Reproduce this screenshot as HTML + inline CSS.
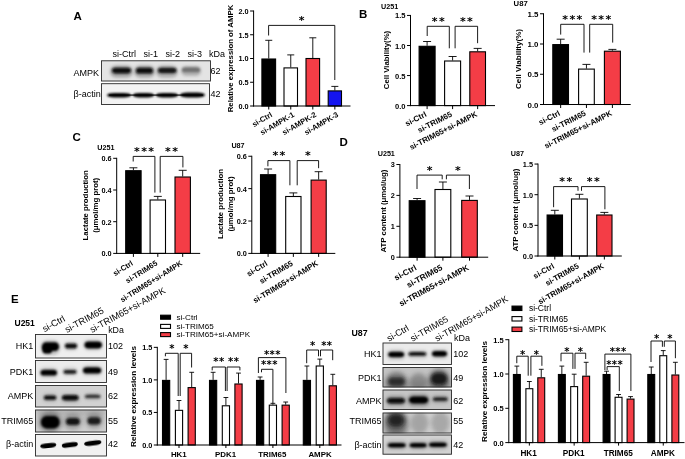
<!DOCTYPE html>
<html><head><meta charset="utf-8"><title>Figure</title>
<style>html,body{margin:0;padding:0;background:#fff}svg{display:block}text{font-family:'Liberation Sans', sans-serif}</style></head><body>
<svg width="685" height="459" viewBox="0 0 685 459">
<defs>
<filter id="b0" x="-30%" y="-80%" width="160%" height="260%"><feGaussianBlur stdDeviation="0.6"/></filter>
<filter id="b1" x="-30%" y="-80%" width="160%" height="260%"><feGaussianBlur stdDeviation="0.9"/></filter>
<filter id="b2" x="-30%" y="-80%" width="160%" height="260%"><feGaussianBlur stdDeviation="1.4"/></filter>
<filter id="b3" x="-30%" y="-80%" width="160%" height="260%"><feGaussianBlur stdDeviation="2.2"/></filter>
<filter id="b4" x="-30%" y="-80%" width="160%" height="260%"><feGaussianBlur stdDeviation="3.0"/></filter>
</defs>
<rect width="685" height="459" fill="#fff"/>
<text x="73.50" y="20.40" font-size="11.5" font-weight="bold" text-anchor="start" fill="#000">A</text>
<text x="112.50" y="57.00" font-size="9" text-anchor="start" fill="#000">si-Ctrl</text>
<text x="143.50" y="57.00" font-size="9" text-anchor="start" fill="#000">si-1</text>
<text x="165.50" y="57.00" font-size="9" text-anchor="start" fill="#000">si-2</text>
<text x="187.50" y="57.00" font-size="9" text-anchor="start" fill="#000">si-3</text>
<text x="209.00" y="57.00" font-size="9" text-anchor="start" fill="#000">kDa</text>
<text x="73.50" y="75.80" font-size="9" text-anchor="start" fill="#000">AMPK</text>
<text x="73.50" y="97.40" font-size="9" text-anchor="start" fill="#000">β-actin</text>
<text x="210.50" y="73.50" font-size="9" text-anchor="start" fill="#000">62</text>
<text x="210.50" y="96.50" font-size="9" text-anchor="start" fill="#000">42</text>
<clipPath id="ba1"><rect x="101" y="60.3" width="110" height="21.200000000000003"/></clipPath>
<g clip-path="url(#ba1)">
<rect x="101" y="60.3" width="110" height="21.200000000000003" fill="#e4e4e4"/>
<rect x="110.0" y="65.5" width="23.0" height="12.0" rx="6.0" ry="6.0" fill="#444" opacity="0.4" filter="url(#b2)"/>
<rect x="112.0" y="67.8" width="19.0" height="5.6" rx="3.8" ry="2.8" fill="#0c0c0c" opacity="1" filter="url(#b1)"/>
<rect x="134.0" y="65.5" width="21.0" height="12.0" rx="6.0" ry="6.0" fill="#444" opacity="0.4" filter="url(#b2)"/>
<rect x="136.0" y="67.8" width="17.0" height="5.8" rx="3.4" ry="2.9" fill="#0c0c0c" opacity="1" filter="url(#b1)"/>
<rect x="156.0" y="65.5" width="22.0" height="12.0" rx="6.0" ry="6.0" fill="#444" opacity="0.35" filter="url(#b2)"/>
<rect x="158.0" y="67.8" width="18.5" height="5.4" rx="3.7" ry="2.7" fill="#141414" opacity="1" filter="url(#b1)"/>
<rect x="181.0" y="66.0" width="20.0" height="10.0" rx="5.0" ry="5.0" fill="#666" opacity="0.4" filter="url(#b2)"/>
<rect x="182.0" y="67.6" width="18.0" height="4.7" rx="3.6" ry="2.4" fill="#555" opacity="0.7" filter="url(#b1)"/>
</g>
<rect x="101.5" y="60.8" width="109" height="20.200000000000003" fill="none" stroke="#2a2a2a" stroke-width="0.9"/>
<clipPath id="ba2"><rect x="101" y="83.2" width="109" height="21.799999999999997"/></clipPath>
<g clip-path="url(#ba2)">
<rect x="101" y="83.2" width="109" height="21.799999999999997" fill="#f3f3f3"/>
<rect x="109.0" y="94.3" width="94.0" height="1.8" rx="0.9" ry="0.9" fill="#222" opacity="0.7" filter="url(#b0)"/>
<rect x="107.0" y="92.9" width="24.0" height="4.6" rx="7.2" ry="2.3" fill="#060606" opacity="1" filter="url(#b1)"/>
<rect x="133.0" y="92.9" width="21.0" height="4.6" rx="6.3" ry="2.3" fill="#060606" opacity="1" filter="url(#b1)"/>
<rect x="156.0" y="92.9" width="22.0" height="4.6" rx="6.6" ry="2.3" fill="#060606" opacity="1" filter="url(#b1)"/>
<rect x="180.0" y="92.4" width="25.0" height="5.1" rx="7.5" ry="2.5" fill="#060606" opacity="1" filter="url(#b1)"/>
</g>
<rect x="101.5" y="83.7" width="108" height="20.799999999999997" fill="none" stroke="#2a2a2a" stroke-width="0.9"/>
<line x1="268.75" y1="58.50" x2="268.75" y2="40.30" stroke="#000" stroke-width="0.9"/>
<line x1="265.25" y1="40.30" x2="272.25" y2="40.30" stroke="#000" stroke-width="0.9"/>
<line x1="290.75" y1="67.40" x2="290.75" y2="54.90" stroke="#000" stroke-width="0.9"/>
<line x1="287.25" y1="54.90" x2="294.25" y2="54.90" stroke="#000" stroke-width="0.9"/>
<line x1="312.80" y1="58.00" x2="312.80" y2="37.80" stroke="#000" stroke-width="0.9"/>
<line x1="309.30" y1="37.80" x2="316.30" y2="37.80" stroke="#000" stroke-width="0.9"/>
<line x1="334.85" y1="90.40" x2="334.85" y2="86.40" stroke="#000" stroke-width="0.9"/>
<line x1="331.35" y1="86.40" x2="338.35" y2="86.40" stroke="#000" stroke-width="0.9"/>
<rect x="261.90" y="59.00" width="13.70" height="47.00" fill="#000" stroke="#000" stroke-width="1.1"/>
<rect x="284.00" y="67.90" width="13.50" height="38.10" fill="#fff" stroke="#000" stroke-width="1.1"/>
<rect x="306.00" y="58.50" width="13.60" height="47.50" fill="#f43d46" stroke="#000" stroke-width="1.1"/>
<rect x="328.20" y="90.90" width="13.30" height="15.10" fill="#1414f0" stroke="#000" stroke-width="1.1"/>
<line x1="253.60" y1="10.50" x2="253.60" y2="106.50" stroke="#000" stroke-width="1.0"/>
<line x1="253.10" y1="106.00" x2="350.50" y2="106.00" stroke="#000" stroke-width="1.0"/>
<line x1="250.10" y1="106.00" x2="253.60" y2="106.00" stroke="#000" stroke-width="1.0"/>
<text x="248.60" y="108.93" font-size="7.3" font-weight="bold" text-anchor="end" fill="#000">0.0</text>
<line x1="250.10" y1="82.25" x2="253.60" y2="82.25" stroke="#000" stroke-width="1.0"/>
<text x="248.60" y="85.18" font-size="7.3" font-weight="bold" text-anchor="end" fill="#000">0.5</text>
<line x1="250.10" y1="58.50" x2="253.60" y2="58.50" stroke="#000" stroke-width="1.0"/>
<text x="248.60" y="61.43" font-size="7.3" font-weight="bold" text-anchor="end" fill="#000">1.0</text>
<line x1="250.10" y1="34.75" x2="253.60" y2="34.75" stroke="#000" stroke-width="1.0"/>
<text x="248.60" y="37.68" font-size="7.3" font-weight="bold" text-anchor="end" fill="#000">1.5</text>
<line x1="250.10" y1="11.00" x2="253.60" y2="11.00" stroke="#000" stroke-width="1.0"/>
<text x="248.60" y="13.93" font-size="7.3" font-weight="bold" text-anchor="end" fill="#000">2.0</text>
<line x1="268.75" y1="106.00" x2="268.75" y2="109.50" stroke="#000" stroke-width="1.0"/>
<text x="272.95" y="116.20" font-size="7.6" font-weight="bold" text-anchor="end" fill="#000" transform="rotate(-30 272.95 116.20)">si-Ctrl</text>
<line x1="290.75" y1="106.00" x2="290.75" y2="109.50" stroke="#000" stroke-width="1.0"/>
<text x="294.95" y="116.20" font-size="7.6" font-weight="bold" text-anchor="end" fill="#000" transform="rotate(-30 294.95 116.20)">si-AMPK-1</text>
<line x1="312.80" y1="106.00" x2="312.80" y2="109.50" stroke="#000" stroke-width="1.0"/>
<text x="317.00" y="116.20" font-size="7.6" font-weight="bold" text-anchor="end" fill="#000" transform="rotate(-30 317.00 116.20)">si-AMPK-2</text>
<line x1="334.85" y1="106.00" x2="334.85" y2="109.50" stroke="#000" stroke-width="1.0"/>
<text x="339.05" y="116.20" font-size="7.6" font-weight="bold" text-anchor="end" fill="#000" transform="rotate(-30 339.05 116.20)">si-AMPK-3</text>
<polyline points="268.60,35.50 268.60,25.40 334.80,25.40 334.80,80.00" fill="none" stroke="#000" stroke-width="0.9"/>
<text x="298.82" y="24.16" font-size="11" font-weight="bold" letter-spacing="1.4" style="font-family:'DejaVu Sans',sans-serif">*</text>
<text x="233.30" y="58.50" font-size="7.8" font-weight="bold" text-anchor="middle" fill="#000" transform="rotate(-90 233.30 58.50)">Relative expression of AMPK</text>
<text x="359.00" y="18.30" font-size="11.5" font-weight="bold" text-anchor="start" fill="#000">B</text>
<text x="381.00" y="8.50" font-size="7.2" font-weight="bold" text-anchor="start" fill="#000">U251</text>
<line x1="427.10" y1="45.80" x2="427.10" y2="41.50" stroke="#000" stroke-width="0.9"/>
<line x1="423.10" y1="41.50" x2="431.10" y2="41.50" stroke="#000" stroke-width="0.9"/>
<line x1="452.60" y1="60.50" x2="452.60" y2="56.50" stroke="#000" stroke-width="0.9"/>
<line x1="448.60" y1="56.50" x2="456.60" y2="56.50" stroke="#000" stroke-width="0.9"/>
<line x1="477.65" y1="51.30" x2="477.65" y2="48.40" stroke="#000" stroke-width="0.9"/>
<line x1="473.65" y1="48.40" x2="481.65" y2="48.40" stroke="#000" stroke-width="0.9"/>
<rect x="419.10" y="46.30" width="16.00" height="59.30" fill="#000" stroke="#000" stroke-width="1.1"/>
<rect x="444.60" y="61.00" width="16.00" height="44.60" fill="#fff" stroke="#000" stroke-width="1.1"/>
<rect x="469.80" y="51.80" width="15.70" height="53.80" fill="#f43d46" stroke="#000" stroke-width="1.1"/>
<line x1="410.50" y1="14.95" x2="410.50" y2="106.10" stroke="#000" stroke-width="1.0"/>
<line x1="410.00" y1="105.60" x2="495.00" y2="105.60" stroke="#000" stroke-width="1.0"/>
<line x1="407.00" y1="105.60" x2="410.50" y2="105.60" stroke="#000" stroke-width="1.0"/>
<text x="405.50" y="108.64" font-size="7.6" font-weight="bold" text-anchor="end" fill="#000">0.0</text>
<line x1="407.00" y1="75.55" x2="410.50" y2="75.55" stroke="#000" stroke-width="1.0"/>
<text x="405.50" y="78.59" font-size="7.6" font-weight="bold" text-anchor="end" fill="#000">0.5</text>
<line x1="407.00" y1="45.50" x2="410.50" y2="45.50" stroke="#000" stroke-width="1.0"/>
<text x="405.50" y="48.54" font-size="7.6" font-weight="bold" text-anchor="end" fill="#000">1.0</text>
<line x1="407.00" y1="15.45" x2="410.50" y2="15.45" stroke="#000" stroke-width="1.0"/>
<text x="405.50" y="18.49" font-size="7.6" font-weight="bold" text-anchor="end" fill="#000">1.5</text>
<line x1="427.10" y1="105.60" x2="427.10" y2="109.10" stroke="#000" stroke-width="1.0"/>
<text x="427.20" y="116.00" font-size="7.95" font-weight="bold" text-anchor="end" fill="#000" transform="rotate(-27 427.20 116.00)">si-Ctrl</text>
<line x1="452.60" y1="105.60" x2="452.60" y2="109.10" stroke="#000" stroke-width="1.0"/>
<text x="452.70" y="116.00" font-size="7.95" font-weight="bold" text-anchor="end" fill="#000" transform="rotate(-27 452.70 116.00)">si-TRIM65</text>
<line x1="477.65" y1="105.60" x2="477.65" y2="109.10" stroke="#000" stroke-width="1.0"/>
<text x="477.75" y="116.00" font-size="7.95" font-weight="bold" text-anchor="end" fill="#000" transform="rotate(-27 477.75 116.00)">si-TRIM65+si-AMPK</text>
<polyline points="427.20,36.00 427.20,26.30 449.30,26.30 449.30,48.30" fill="none" stroke="#000" stroke-width="0.9"/>
<polyline points="455.10,48.30 455.10,26.30 477.60,26.30 477.60,43.20" fill="none" stroke="#000" stroke-width="0.9"/>
<text x="431.80" y="25.06" font-size="11" font-weight="bold" letter-spacing="1.4" style="font-family:'DejaVu Sans',sans-serif">**</text>
<text x="459.90" y="25.06" font-size="11" font-weight="bold" letter-spacing="1.4" style="font-family:'DejaVu Sans',sans-serif">**</text>
<text x="389.30" y="60.00" font-size="7.8" font-weight="bold" text-anchor="middle" fill="#000" transform="rotate(-90 389.30 60.00)">Cell Viability(%)</text>
<text x="513.60" y="6.30" font-size="7.7" font-weight="bold" text-anchor="start" fill="#000">U87</text>
<line x1="560.65" y1="44.10" x2="560.65" y2="39.20" stroke="#000" stroke-width="0.9"/>
<line x1="556.65" y1="39.20" x2="564.65" y2="39.20" stroke="#000" stroke-width="0.9"/>
<line x1="586.45" y1="68.60" x2="586.45" y2="64.40" stroke="#000" stroke-width="0.9"/>
<line x1="582.45" y1="64.40" x2="590.45" y2="64.40" stroke="#000" stroke-width="0.9"/>
<line x1="612.40" y1="50.70" x2="612.40" y2="49.40" stroke="#000" stroke-width="0.9"/>
<line x1="608.40" y1="49.40" x2="616.40" y2="49.40" stroke="#000" stroke-width="0.9"/>
<rect x="552.80" y="44.60" width="15.70" height="59.90" fill="#000" stroke="#000" stroke-width="1.1"/>
<rect x="578.60" y="69.10" width="15.70" height="35.40" fill="#fff" stroke="#000" stroke-width="1.1"/>
<rect x="604.40" y="51.20" width="16.00" height="53.30" fill="#f43d46" stroke="#000" stroke-width="1.1"/>
<line x1="543.50" y1="13.25" x2="543.50" y2="105.00" stroke="#000" stroke-width="1.0"/>
<line x1="543.00" y1="104.50" x2="630.70" y2="104.50" stroke="#000" stroke-width="1.0"/>
<line x1="540.00" y1="104.50" x2="543.50" y2="104.50" stroke="#000" stroke-width="1.0"/>
<text x="538.50" y="107.64" font-size="7.9" font-weight="bold" text-anchor="end" fill="#000">0.0</text>
<line x1="540.00" y1="74.25" x2="543.50" y2="74.25" stroke="#000" stroke-width="1.0"/>
<text x="538.50" y="77.39" font-size="7.9" font-weight="bold" text-anchor="end" fill="#000">0.5</text>
<line x1="540.00" y1="44.00" x2="543.50" y2="44.00" stroke="#000" stroke-width="1.0"/>
<text x="538.50" y="47.14" font-size="7.9" font-weight="bold" text-anchor="end" fill="#000">1.0</text>
<line x1="540.00" y1="13.75" x2="543.50" y2="13.75" stroke="#000" stroke-width="1.0"/>
<text x="538.50" y="16.89" font-size="7.9" font-weight="bold" text-anchor="end" fill="#000">1.5</text>
<line x1="560.65" y1="104.50" x2="560.65" y2="108.00" stroke="#000" stroke-width="1.0"/>
<text x="560.75" y="114.90" font-size="7.95" font-weight="bold" text-anchor="end" fill="#000" transform="rotate(-27 560.75 114.90)">si-Ctrl</text>
<line x1="586.45" y1="104.50" x2="586.45" y2="108.00" stroke="#000" stroke-width="1.0"/>
<text x="586.55" y="114.90" font-size="7.95" font-weight="bold" text-anchor="end" fill="#000" transform="rotate(-27 586.55 114.90)">si-TRIM65</text>
<line x1="612.40" y1="104.50" x2="612.40" y2="108.00" stroke="#000" stroke-width="1.0"/>
<text x="612.50" y="114.90" font-size="7.95" font-weight="bold" text-anchor="end" fill="#000" transform="rotate(-27 612.50 114.90)">si-TRIM65+si-AMPK</text>
<polyline points="560.70,34.60 560.70,24.30 584.00,24.30 584.00,52.60" fill="none" stroke="#000" stroke-width="0.9"/>
<polyline points="589.70,52.60 589.70,24.30 612.70,24.30 612.70,42.60" fill="none" stroke="#000" stroke-width="0.9"/>
<text x="562.32" y="23.06" font-size="11" font-weight="bold" letter-spacing="1.4" style="font-family:'DejaVu Sans',sans-serif">***</text>
<text x="591.17" y="23.06" font-size="11" font-weight="bold" letter-spacing="1.4" style="font-family:'DejaVu Sans',sans-serif">***</text>
<text x="521.00" y="59.00" font-size="8.0" font-weight="bold" text-anchor="middle" fill="#000" transform="rotate(-90 521.00 59.00)">Cell Viability(%)</text>
<text x="72.60" y="141.00" font-size="11.5" font-weight="bold" text-anchor="start" fill="#000">C</text>
<text x="97.30" y="149.80" font-size="7.2" font-weight="bold" text-anchor="start" fill="#000">U251</text>
<line x1="133.40" y1="170.20" x2="133.40" y2="167.80" stroke="#000" stroke-width="0.9"/>
<line x1="129.40" y1="167.80" x2="137.40" y2="167.80" stroke="#000" stroke-width="0.9"/>
<line x1="157.80" y1="199.50" x2="157.80" y2="196.40" stroke="#000" stroke-width="0.9"/>
<line x1="153.80" y1="196.40" x2="161.80" y2="196.40" stroke="#000" stroke-width="0.9"/>
<line x1="182.70" y1="176.50" x2="182.70" y2="170.30" stroke="#000" stroke-width="0.9"/>
<line x1="178.70" y1="170.30" x2="186.70" y2="170.30" stroke="#000" stroke-width="0.9"/>
<rect x="125.70" y="170.70" width="15.40" height="82.70" fill="#000" stroke="#000" stroke-width="1.1"/>
<rect x="150.10" y="200.00" width="15.40" height="53.40" fill="#fff" stroke="#000" stroke-width="1.1"/>
<rect x="175.00" y="177.00" width="15.40" height="76.40" fill="#f43d46" stroke="#000" stroke-width="1.1"/>
<line x1="116.70" y1="157.80" x2="116.70" y2="253.90" stroke="#000" stroke-width="1.0"/>
<line x1="116.20" y1="253.40" x2="200.20" y2="253.40" stroke="#000" stroke-width="1.0"/>
<line x1="113.20" y1="253.40" x2="116.70" y2="253.40" stroke="#000" stroke-width="1.0"/>
<text x="111.70" y="256.33" font-size="7.3" font-weight="bold" text-anchor="end" fill="#000">0.0</text>
<line x1="113.20" y1="221.70" x2="116.70" y2="221.70" stroke="#000" stroke-width="1.0"/>
<text x="111.70" y="224.63" font-size="7.3" font-weight="bold" text-anchor="end" fill="#000">0.2</text>
<line x1="113.20" y1="190.00" x2="116.70" y2="190.00" stroke="#000" stroke-width="1.0"/>
<text x="111.70" y="192.93" font-size="7.3" font-weight="bold" text-anchor="end" fill="#000">0.4</text>
<line x1="113.20" y1="158.30" x2="116.70" y2="158.30" stroke="#000" stroke-width="1.0"/>
<text x="111.70" y="161.23" font-size="7.3" font-weight="bold" text-anchor="end" fill="#000">0.6</text>
<line x1="133.40" y1="253.40" x2="133.40" y2="256.90" stroke="#000" stroke-width="1.0"/>
<text x="133.60" y="264.60" font-size="7.6" font-weight="bold" text-anchor="end" fill="#000" transform="rotate(-32 133.60 264.60)">si-Ctrl</text>
<line x1="157.80" y1="253.40" x2="157.80" y2="256.90" stroke="#000" stroke-width="1.0"/>
<text x="158.00" y="264.60" font-size="7.6" font-weight="bold" text-anchor="end" fill="#000" transform="rotate(-32 158.00 264.60)">si-TRIM65</text>
<line x1="182.70" y1="253.40" x2="182.70" y2="256.90" stroke="#000" stroke-width="1.0"/>
<text x="182.90" y="264.60" font-size="7.6" font-weight="bold" text-anchor="end" fill="#000" transform="rotate(-32 182.90 264.60)">si-TRIM65+si-AMPK</text>
<polyline points="133.20,161.50 133.20,156.40 154.90,156.40 154.90,192.60" fill="none" stroke="#000" stroke-width="0.9"/>
<polyline points="160.20,192.60 160.20,156.40 182.90,156.40 182.90,167.40" fill="none" stroke="#000" stroke-width="0.9"/>
<text x="134.02" y="155.16" font-size="11" font-weight="bold" letter-spacing="1.4" style="font-family:'DejaVu Sans',sans-serif">***</text>
<text x="165.10" y="155.16" font-size="11" font-weight="bold" letter-spacing="1.4" style="font-family:'DejaVu Sans',sans-serif">**</text>
<text x="88.20" y="205.30" font-size="7.8" font-weight="bold" text-anchor="middle" fill="#000" transform="rotate(-90 88.20 205.30)">Lactate production</text>
<text x="97.60" y="205.30" font-size="7.8" font-weight="bold" text-anchor="middle" fill="#000" transform="rotate(-90 97.60 205.30)">(μmol/mg prot)</text>
<text x="231.40" y="148.20" font-size="7.2" font-weight="bold" text-anchor="start" fill="#000">U87</text>
<line x1="268.10" y1="174.20" x2="268.10" y2="169.00" stroke="#000" stroke-width="0.9"/>
<line x1="264.10" y1="169.00" x2="272.10" y2="169.00" stroke="#000" stroke-width="0.9"/>
<line x1="293.35" y1="196.00" x2="293.35" y2="192.90" stroke="#000" stroke-width="0.9"/>
<line x1="289.35" y1="192.90" x2="297.35" y2="192.90" stroke="#000" stroke-width="0.9"/>
<line x1="318.65" y1="179.60" x2="318.65" y2="171.70" stroke="#000" stroke-width="0.9"/>
<line x1="314.65" y1="171.70" x2="322.65" y2="171.70" stroke="#000" stroke-width="0.9"/>
<rect x="260.50" y="174.70" width="15.20" height="78.70" fill="#000" stroke="#000" stroke-width="1.1"/>
<rect x="285.70" y="196.50" width="15.30" height="56.90" fill="#fff" stroke="#000" stroke-width="1.1"/>
<rect x="311.10" y="180.10" width="15.10" height="73.30" fill="#f43d46" stroke="#000" stroke-width="1.1"/>
<line x1="251.80" y1="155.76" x2="251.80" y2="253.90" stroke="#000" stroke-width="1.0"/>
<line x1="251.30" y1="253.40" x2="335.30" y2="253.40" stroke="#000" stroke-width="1.0"/>
<line x1="248.30" y1="253.40" x2="251.80" y2="253.40" stroke="#000" stroke-width="1.0"/>
<text x="246.80" y="256.33" font-size="7.3" font-weight="bold" text-anchor="end" fill="#000">0.0</text>
<line x1="248.30" y1="221.02" x2="251.80" y2="221.02" stroke="#000" stroke-width="1.0"/>
<text x="246.80" y="223.95" font-size="7.3" font-weight="bold" text-anchor="end" fill="#000">0.2</text>
<line x1="248.30" y1="188.64" x2="251.80" y2="188.64" stroke="#000" stroke-width="1.0"/>
<text x="246.80" y="191.57" font-size="7.3" font-weight="bold" text-anchor="end" fill="#000">0.4</text>
<line x1="248.30" y1="156.26" x2="251.80" y2="156.26" stroke="#000" stroke-width="1.0"/>
<text x="246.80" y="159.19" font-size="7.3" font-weight="bold" text-anchor="end" fill="#000">0.6</text>
<line x1="268.10" y1="253.40" x2="268.10" y2="256.90" stroke="#000" stroke-width="1.0"/>
<text x="268.20" y="264.90" font-size="7.9" font-weight="bold" text-anchor="end" fill="#000" transform="rotate(-31 268.20 264.90)">si-Ctrl</text>
<line x1="293.35" y1="253.40" x2="293.35" y2="256.90" stroke="#000" stroke-width="1.0"/>
<text x="293.45" y="264.90" font-size="7.9" font-weight="bold" text-anchor="end" fill="#000" transform="rotate(-31 293.45 264.90)">si-TRIM65</text>
<line x1="318.65" y1="253.40" x2="318.65" y2="256.90" stroke="#000" stroke-width="1.0"/>
<text x="318.75" y="264.90" font-size="7.9" font-weight="bold" text-anchor="end" fill="#000" transform="rotate(-31 318.75 264.90)">si-TRIM65+si-AMPK</text>
<polyline points="267.90,166.30 267.90,160.60 289.90,160.60 289.90,185.30" fill="none" stroke="#000" stroke-width="0.9"/>
<polyline points="297.20,185.30 297.20,160.60 318.60,160.60 318.60,168.20" fill="none" stroke="#000" stroke-width="0.9"/>
<text x="272.45" y="159.36" font-size="11" font-weight="bold" letter-spacing="1.4" style="font-family:'DejaVu Sans',sans-serif">**</text>
<text x="305.02" y="159.36" font-size="11" font-weight="bold" letter-spacing="1.4" style="font-family:'DejaVu Sans',sans-serif">*</text>
<text x="223.40" y="204.00" font-size="7.8" font-weight="bold" text-anchor="middle" fill="#000" transform="rotate(-90 223.40 204.00)">Lactate production</text>
<text x="232.80" y="204.00" font-size="7.8" font-weight="bold" text-anchor="middle" fill="#000" transform="rotate(-90 232.80 204.00)">(μmol/mg prot)</text>
<text x="339.50" y="146.30" font-size="11.5" font-weight="bold" text-anchor="start" fill="#000">D</text>
<text x="377.70" y="156.20" font-size="7.2" font-weight="bold" text-anchor="start" fill="#000">U251</text>
<line x1="417.10" y1="200.20" x2="417.10" y2="198.50" stroke="#000" stroke-width="0.9"/>
<line x1="413.10" y1="198.50" x2="421.10" y2="198.50" stroke="#000" stroke-width="0.9"/>
<line x1="442.90" y1="189.00" x2="442.90" y2="182.00" stroke="#000" stroke-width="0.9"/>
<line x1="438.90" y1="182.00" x2="446.90" y2="182.00" stroke="#000" stroke-width="0.9"/>
<line x1="469.50" y1="199.90" x2="469.50" y2="196.00" stroke="#000" stroke-width="0.9"/>
<line x1="465.50" y1="196.00" x2="473.50" y2="196.00" stroke="#000" stroke-width="0.9"/>
<rect x="409.20" y="200.70" width="15.80" height="56.50" fill="#000" stroke="#000" stroke-width="1.1"/>
<rect x="435.00" y="189.50" width="15.80" height="67.70" fill="#fff" stroke="#000" stroke-width="1.1"/>
<rect x="461.70" y="200.40" width="15.60" height="56.80" fill="#f43d46" stroke="#000" stroke-width="1.1"/>
<line x1="399.90" y1="164.00" x2="399.90" y2="257.70" stroke="#000" stroke-width="1.0"/>
<line x1="399.40" y1="257.20" x2="488.20" y2="257.20" stroke="#000" stroke-width="1.0"/>
<line x1="396.40" y1="257.20" x2="399.90" y2="257.20" stroke="#000" stroke-width="1.0"/>
<text x="394.90" y="260.13" font-size="7.3" font-weight="bold" text-anchor="end" fill="#000">0</text>
<line x1="396.40" y1="226.30" x2="399.90" y2="226.30" stroke="#000" stroke-width="1.0"/>
<text x="394.90" y="229.23" font-size="7.3" font-weight="bold" text-anchor="end" fill="#000">1</text>
<line x1="396.40" y1="195.40" x2="399.90" y2="195.40" stroke="#000" stroke-width="1.0"/>
<text x="394.90" y="198.33" font-size="7.3" font-weight="bold" text-anchor="end" fill="#000">2</text>
<line x1="396.40" y1="164.50" x2="399.90" y2="164.50" stroke="#000" stroke-width="1.0"/>
<text x="394.90" y="167.43" font-size="7.3" font-weight="bold" text-anchor="end" fill="#000">3</text>
<line x1="417.10" y1="257.20" x2="417.10" y2="260.70" stroke="#000" stroke-width="1.0"/>
<text x="417.20" y="269.30" font-size="8.3" font-weight="bold" text-anchor="end" fill="#000" transform="rotate(-28.5 417.20 269.30)">si-Ctrl</text>
<line x1="442.90" y1="257.20" x2="442.90" y2="260.70" stroke="#000" stroke-width="1.0"/>
<text x="443.00" y="269.30" font-size="8.3" font-weight="bold" text-anchor="end" fill="#000" transform="rotate(-28.5 443.00 269.30)">si-TRIM65</text>
<line x1="469.50" y1="257.20" x2="469.50" y2="260.70" stroke="#000" stroke-width="1.0"/>
<text x="469.60" y="269.30" font-size="8.3" font-weight="bold" text-anchor="end" fill="#000" transform="rotate(-28.5 469.60 269.30)">si-TRIM65+si-AMPK</text>
<polyline points="417.00,189.00 417.00,175.10 442.20,175.10 442.20,179.30" fill="none" stroke="#000" stroke-width="0.9"/>
<polyline points="446.40,179.30 446.40,175.10 469.40,175.10 469.40,189.00" fill="none" stroke="#000" stroke-width="0.9"/>
<text x="426.72" y="173.86" font-size="11" font-weight="bold" letter-spacing="1.4" style="font-family:'DejaVu Sans',sans-serif">*</text>
<text x="455.02" y="173.86" font-size="11" font-weight="bold" letter-spacing="1.4" style="font-family:'DejaVu Sans',sans-serif">*</text>
<text x="386.00" y="211.00" font-size="7.8" font-weight="bold" text-anchor="middle" fill="#000" transform="rotate(-90 386.00 211.00)">ATP content (μmol/ug)</text>
<text x="510.70" y="155.50" font-size="7.2" font-weight="bold" text-anchor="start" fill="#000">U87</text>
<line x1="554.80" y1="214.50" x2="554.80" y2="210.30" stroke="#000" stroke-width="0.9"/>
<line x1="550.80" y1="210.30" x2="558.80" y2="210.30" stroke="#000" stroke-width="0.9"/>
<line x1="579.40" y1="198.50" x2="579.40" y2="194.30" stroke="#000" stroke-width="0.9"/>
<line x1="575.40" y1="194.30" x2="583.40" y2="194.30" stroke="#000" stroke-width="0.9"/>
<line x1="604.35" y1="214.50" x2="604.35" y2="212.40" stroke="#000" stroke-width="0.9"/>
<line x1="600.35" y1="212.40" x2="608.35" y2="212.40" stroke="#000" stroke-width="0.9"/>
<rect x="547.10" y="215.00" width="15.40" height="41.00" fill="#000" stroke="#000" stroke-width="1.1"/>
<rect x="571.50" y="199.00" width="15.80" height="57.00" fill="#fff" stroke="#000" stroke-width="1.1"/>
<rect x="596.70" y="215.00" width="15.30" height="41.00" fill="#f43d46" stroke="#000" stroke-width="1.1"/>
<line x1="538.00" y1="163.55" x2="538.00" y2="256.50" stroke="#000" stroke-width="1.0"/>
<line x1="537.50" y1="256.00" x2="621.80" y2="256.00" stroke="#000" stroke-width="1.0"/>
<line x1="534.50" y1="256.00" x2="538.00" y2="256.00" stroke="#000" stroke-width="1.0"/>
<text x="533.00" y="258.93" font-size="7.3" font-weight="bold" text-anchor="end" fill="#000">0.0</text>
<line x1="534.50" y1="225.35" x2="538.00" y2="225.35" stroke="#000" stroke-width="1.0"/>
<text x="533.00" y="228.28" font-size="7.3" font-weight="bold" text-anchor="end" fill="#000">0.5</text>
<line x1="534.50" y1="194.70" x2="538.00" y2="194.70" stroke="#000" stroke-width="1.0"/>
<text x="533.00" y="197.63" font-size="7.3" font-weight="bold" text-anchor="end" fill="#000">1.0</text>
<line x1="534.50" y1="164.05" x2="538.00" y2="164.05" stroke="#000" stroke-width="1.0"/>
<text x="533.00" y="166.98" font-size="7.3" font-weight="bold" text-anchor="end" fill="#000">1.5</text>
<line x1="554.80" y1="256.00" x2="554.80" y2="259.50" stroke="#000" stroke-width="1.0"/>
<text x="554.90" y="267.60" font-size="7.9" font-weight="bold" text-anchor="end" fill="#000" transform="rotate(-29.8 554.90 267.60)">si-Ctrl</text>
<line x1="579.40" y1="256.00" x2="579.40" y2="259.50" stroke="#000" stroke-width="1.0"/>
<text x="579.50" y="267.60" font-size="7.9" font-weight="bold" text-anchor="end" fill="#000" transform="rotate(-29.8 579.50 267.60)">si-TRIM65</text>
<line x1="604.35" y1="256.00" x2="604.35" y2="259.50" stroke="#000" stroke-width="1.0"/>
<text x="604.45" y="267.60" font-size="7.9" font-weight="bold" text-anchor="end" fill="#000" transform="rotate(-29.8 604.45 267.60)">si-TRIM65+si-AMPK</text>
<polyline points="553.60,207.20 553.60,186.60 578.00,186.60 578.00,190.80" fill="none" stroke="#000" stroke-width="0.9"/>
<polyline points="581.50,190.80 581.50,186.60 604.90,186.60 604.90,209.30" fill="none" stroke="#000" stroke-width="0.9"/>
<text x="559.35" y="185.36" font-size="11" font-weight="bold" letter-spacing="1.4" style="font-family:'DejaVu Sans',sans-serif">**</text>
<text x="586.75" y="185.36" font-size="11" font-weight="bold" letter-spacing="1.4" style="font-family:'DejaVu Sans',sans-serif">**</text>
<text x="518.00" y="210.00" font-size="7.8" font-weight="bold" text-anchor="middle" fill="#000" transform="rotate(-90 518.00 210.00)">ATP content (μmol/ug)</text>
<text x="11.00" y="303.40" font-size="11.5" font-weight="bold" text-anchor="start" fill="#000">E</text>
<text x="14.50" y="325.50" font-size="8.5" font-weight="bold" text-anchor="start" fill="#000">U251</text>
<text x="44.50" y="332.30" font-size="9.3" text-anchor="start" fill="#000" transform="rotate(-28.7 44.50 332.30)">si-Ctrl</text>
<text x="67.00" y="333.00" font-size="9.3" text-anchor="start" fill="#000" transform="rotate(-28.7 67.00 333.00)">si-TRIM65</text>
<text x="92.00" y="333.00" font-size="9.3" text-anchor="start" fill="#000" transform="rotate(-28.7 92.00 333.00)">si-TRIM65+si-AMPK</text>
<text x="108.20" y="332.80" font-size="8.8" text-anchor="start" fill="#000">kDa</text>
<text x="33.30" y="349.30" font-size="9" text-anchor="end" fill="#000">HK1</text>
<text x="108.00" y="349.30" font-size="9" text-anchor="start" fill="#000">102</text>
<text x="33.30" y="374.90" font-size="9" text-anchor="end" fill="#000">PDK1</text>
<text x="108.00" y="374.90" font-size="9" text-anchor="start" fill="#000">49</text>
<text x="33.30" y="399.10" font-size="9" text-anchor="end" fill="#000">AMPK</text>
<text x="108.00" y="399.10" font-size="9" text-anchor="start" fill="#000">62</text>
<text x="33.30" y="424.30" font-size="9" text-anchor="end" fill="#000">TRIM65</text>
<text x="108.00" y="424.30" font-size="9" text-anchor="start" fill="#000">55</text>
<text x="33.30" y="446.80" font-size="9" text-anchor="end" fill="#000">β-actin</text>
<text x="108.00" y="446.80" font-size="9" text-anchor="start" fill="#000">42</text>
<clipPath id="be1"><rect x="35" y="334" width="72" height="24.5"/></clipPath>
<g clip-path="url(#be1)">
<rect x="35" y="334" width="72" height="24.5" fill="#efefef"/>
<rect x="40.5" y="340.0" width="20.0" height="15.0" rx="7.5" ry="7.5" fill="#666" opacity="0.35" filter="url(#b2)"/>
<rect x="42.0" y="342.3" width="17.0" height="8.7" rx="4.2" ry="4.3" fill="#030303" opacity="1" filter="url(#b1)"/>
<rect x="42.5" y="346.0" width="9.5" height="7.6" rx="2.9" ry="3.8" fill="#030303" opacity="1" filter="url(#b1)"/>
<rect x="63.5" y="341.5" width="15.0" height="9.0" rx="4.5" ry="4.5" fill="#777" opacity="0.3" filter="url(#b2)"/>
<rect x="65.0" y="343.6" width="12.0" height="4.8" rx="3.0" ry="2.4" fill="#111" opacity="1" filter="url(#b1)"/>
<rect x="83.0" y="339.5" width="20.0" height="11.0" rx="5.5" ry="5.5" fill="#777" opacity="0.3" filter="url(#b2)"/>
<rect x="84.5" y="341.6" width="17.5" height="6.8" rx="4.4" ry="3.4" fill="#060606" opacity="1" filter="url(#b1)"/>
</g>
<rect x="35.5" y="334.5" width="71" height="23.5" fill="none" stroke="#2a2a2a" stroke-width="0.9"/>
<clipPath id="be2"><rect x="35" y="360" width="72" height="23"/></clipPath>
<g clip-path="url(#be2)">
<rect x="35" y="360" width="72" height="23" fill="#ececec"/>
<rect x="39.0" y="367.5" width="19.5" height="10.5" rx="5.2" ry="5.2" fill="#777" opacity="0.3" filter="url(#b2)"/>
<rect x="40.5" y="369.8" width="16.5" height="5.8" rx="4.1" ry="2.9" fill="#060606" opacity="1" filter="url(#b1)"/>
<rect x="62.0" y="367.5" width="16.0" height="8.5" rx="4.2" ry="4.2" fill="#777" opacity="0.3" filter="url(#b2)"/>
<rect x="63.5" y="369.9" width="13.0" height="3.9" rx="3.2" ry="2.0" fill="#151515" opacity="1" filter="url(#b1)"/>
<rect x="81.5" y="365.0" width="21.0" height="11.0" rx="5.5" ry="5.5" fill="#777" opacity="0.3" filter="url(#b2)"/>
<rect x="83.0" y="367.3" width="18.3" height="6.3" rx="4.6" ry="3.2" fill="#060606" opacity="1" filter="url(#b1)"/>
</g>
<rect x="35.5" y="360.5" width="71" height="22" fill="none" stroke="#2a2a2a" stroke-width="0.9"/>
<clipPath id="be3"><rect x="35" y="385" width="72" height="22.5"/></clipPath>
<g clip-path="url(#be3)">
<rect x="35" y="385" width="72" height="22.5" fill="#d2d2d2"/>
<rect x="42.5" y="393.5" width="15.0" height="8.5" rx="4.2" ry="4.2" fill="#666" opacity="0.3" filter="url(#b2)"/>
<rect x="44.0" y="395.5" width="12.2" height="4.3" rx="3.1" ry="2.2" fill="#101010" opacity="1" filter="url(#b1)"/>
<rect x="60.5" y="393.5" width="19.5" height="9.5" rx="4.8" ry="4.8" fill="#666" opacity="0.3" filter="url(#b2)"/>
<rect x="62.0" y="395.1" width="16.6" height="5.5" rx="4.1" ry="2.8" fill="#080808" opacity="1" filter="url(#b1)"/>
<rect x="84.0" y="393.0" width="17.0" height="7.0" rx="3.5" ry="3.5" fill="#666" opacity="0.3" filter="url(#b2)"/>
<rect x="85.0" y="394.8" width="15.4" height="3.2" rx="3.9" ry="1.6" fill="#2a2a2a" opacity="0.95" filter="url(#b1)"/>
</g>
<rect x="35.5" y="385.5" width="71" height="21.5" fill="none" stroke="#2a2a2a" stroke-width="0.9"/>
<clipPath id="be4"><rect x="35" y="409.5" width="72" height="23.0"/></clipPath>
<g clip-path="url(#be4)">
<rect x="35" y="409.5" width="72" height="23.0" fill="#cdcdcd"/>
<rect x="36.0" y="408.0" width="70.0" height="8.0" rx="4.0" ry="4.0" fill="#888" opacity="0.35" filter="url(#b3)"/>
<rect x="38.5" y="412.0" width="23.5" height="20.0" rx="10.0" ry="10.0" fill="#444" opacity="0.55" filter="url(#b3)"/>
<rect x="41.0" y="416.0" width="18.6" height="12.4" rx="5.6" ry="6.2" fill="#000" opacity="1" filter="url(#b1)"/>
<rect x="63.5" y="414.0" width="18.5" height="15.0" rx="7.5" ry="7.5" fill="#555" opacity="0.45" filter="url(#b3)"/>
<rect x="66.0" y="418.0" width="13.8" height="7.0" rx="4.1" ry="3.5" fill="#0c0c0c" opacity="0.95" filter="url(#b1)"/>
<rect x="85.5" y="413.0" width="17.5" height="15.0" rx="7.5" ry="7.5" fill="#555" opacity="0.45" filter="url(#b3)"/>
<rect x="87.5" y="417.2" width="13.1" height="7.2" rx="3.9" ry="3.6" fill="#141414" opacity="0.95" filter="url(#b1)"/>
</g>
<rect x="35.5" y="410.0" width="71" height="22.0" fill="none" stroke="#2a2a2a" stroke-width="0.9"/>
<clipPath id="be5"><rect x="35" y="434" width="72" height="22.5"/></clipPath>
<g clip-path="url(#be5)">
<rect x="35" y="434" width="72" height="22.5" fill="#f1f1f1"/>
<rect x="40.3" y="443.3" width="15.9" height="4.6" rx="4.8" ry="2.3" fill="#050505" opacity="1" filter="url(#b0)" transform="rotate(-6 48.2 445.6)"/>
<rect x="61.8" y="442.6" width="16.0" height="4.6" rx="4.8" ry="2.3" fill="#050505" opacity="1" filter="url(#b0)" transform="rotate(-7 69.8 444.9)"/>
<rect x="84.2" y="440.8" width="17.2" height="4.6" rx="5.2" ry="2.3" fill="#050505" opacity="1" filter="url(#b0)" transform="rotate(-7 92.8 443.1)"/>
</g>
<rect x="35.5" y="434.5" width="71" height="21.5" fill="none" stroke="#2a2a2a" stroke-width="0.9"/>
<rect x="160.6" y="315.2" width="9.9" height="4.0" fill="#000" stroke="#000" stroke-width="1.1"/>
<text x="176.50" y="319.90" font-size="8.1" text-anchor="start" fill="#000">si-Ctrl</text>
<rect x="160.6" y="324.4" width="9.9" height="4.0" fill="#fff" stroke="#000" stroke-width="1.1"/>
<text x="176.50" y="329.10" font-size="8.1" text-anchor="start" fill="#000">si-TRIM65</text>
<rect x="160.6" y="332.6" width="9.9" height="4.0" fill="#f43d46" stroke="#000" stroke-width="1.1"/>
<text x="176.50" y="337.30" font-size="8.1" text-anchor="start" fill="#000">si-TRIM65+si-AMPK</text>
<line x1="166.10" y1="379.90" x2="166.10" y2="359.40" stroke="#000" stroke-width="0.9"/>
<line x1="163.70" y1="359.40" x2="168.50" y2="359.40" stroke="#000" stroke-width="0.9"/>
<line x1="179.00" y1="409.85" x2="179.00" y2="400.50" stroke="#000" stroke-width="0.9"/>
<line x1="176.60" y1="400.50" x2="181.40" y2="400.50" stroke="#000" stroke-width="0.9"/>
<line x1="191.70" y1="387.10" x2="191.70" y2="372.30" stroke="#000" stroke-width="0.9"/>
<line x1="189.30" y1="372.30" x2="194.10" y2="372.30" stroke="#000" stroke-width="0.9"/>
<line x1="213.10" y1="379.90" x2="213.10" y2="372.30" stroke="#000" stroke-width="0.9"/>
<line x1="210.70" y1="372.30" x2="215.50" y2="372.30" stroke="#000" stroke-width="0.9"/>
<line x1="225.90" y1="405.29" x2="225.90" y2="397.50" stroke="#000" stroke-width="0.9"/>
<line x1="223.50" y1="397.50" x2="228.30" y2="397.50" stroke="#000" stroke-width="0.9"/>
<line x1="238.50" y1="383.50" x2="238.50" y2="373.10" stroke="#000" stroke-width="0.9"/>
<line x1="236.10" y1="373.10" x2="240.90" y2="373.10" stroke="#000" stroke-width="0.9"/>
<line x1="260.10" y1="379.90" x2="260.10" y2="377.00" stroke="#000" stroke-width="0.9"/>
<line x1="257.70" y1="377.00" x2="262.50" y2="377.00" stroke="#000" stroke-width="0.9"/>
<line x1="272.90" y1="404.64" x2="272.90" y2="403.34" stroke="#000" stroke-width="0.9"/>
<line x1="270.50" y1="403.34" x2="275.30" y2="403.34" stroke="#000" stroke-width="0.9"/>
<line x1="285.70" y1="404.64" x2="285.70" y2="402.03" stroke="#000" stroke-width="0.9"/>
<line x1="283.30" y1="402.03" x2="288.10" y2="402.03" stroke="#000" stroke-width="0.9"/>
<line x1="306.90" y1="379.90" x2="306.90" y2="366.00" stroke="#000" stroke-width="0.9"/>
<line x1="304.50" y1="366.00" x2="309.30" y2="366.00" stroke="#000" stroke-width="0.9"/>
<line x1="319.80" y1="365.50" x2="319.80" y2="359.10" stroke="#000" stroke-width="0.9"/>
<line x1="317.40" y1="359.10" x2="322.20" y2="359.10" stroke="#000" stroke-width="0.9"/>
<line x1="332.80" y1="385.30" x2="332.80" y2="374.30" stroke="#000" stroke-width="0.9"/>
<line x1="330.40" y1="374.30" x2="335.20" y2="374.30" stroke="#000" stroke-width="0.9"/>
<rect x="162.50" y="380.40" width="7.20" height="64.60" fill="#000" stroke="#000" stroke-width="1.1"/>
<rect x="175.40" y="410.35" width="7.20" height="34.65" fill="#fff" stroke="#000" stroke-width="1.1"/>
<rect x="188.10" y="387.60" width="7.20" height="57.40" fill="#f43d46" stroke="#000" stroke-width="1.1"/>
<rect x="209.50" y="380.40" width="7.20" height="64.60" fill="#000" stroke="#000" stroke-width="1.1"/>
<rect x="222.30" y="405.79" width="7.20" height="39.21" fill="#fff" stroke="#000" stroke-width="1.1"/>
<rect x="234.90" y="384.00" width="7.20" height="61.00" fill="#f43d46" stroke="#000" stroke-width="1.1"/>
<rect x="256.50" y="380.40" width="7.20" height="64.60" fill="#000" stroke="#000" stroke-width="1.1"/>
<rect x="269.30" y="405.14" width="7.20" height="39.86" fill="#fff" stroke="#000" stroke-width="1.1"/>
<rect x="282.10" y="405.14" width="7.20" height="39.86" fill="#f43d46" stroke="#000" stroke-width="1.1"/>
<rect x="303.30" y="380.40" width="7.20" height="64.60" fill="#000" stroke="#000" stroke-width="1.1"/>
<rect x="316.20" y="366.00" width="7.20" height="79.00" fill="#fff" stroke="#000" stroke-width="1.1"/>
<rect x="329.20" y="385.80" width="7.20" height="59.20" fill="#f43d46" stroke="#000" stroke-width="1.1"/>
<line x1="157.30" y1="346.85" x2="157.30" y2="445.50" stroke="#000" stroke-width="1.0"/>
<line x1="156.80" y1="445.00" x2="341.50" y2="445.00" stroke="#000" stroke-width="1.0"/>
<line x1="153.80" y1="445.00" x2="157.30" y2="445.00" stroke="#000" stroke-width="1.0"/>
<text x="152.30" y="447.93" font-size="7.3" font-weight="bold" text-anchor="end" fill="#000">0.0</text>
<line x1="153.80" y1="412.45" x2="157.30" y2="412.45" stroke="#000" stroke-width="1.0"/>
<text x="152.30" y="415.38" font-size="7.3" font-weight="bold" text-anchor="end" fill="#000">0.5</text>
<line x1="153.80" y1="379.90" x2="157.30" y2="379.90" stroke="#000" stroke-width="1.0"/>
<text x="152.30" y="382.83" font-size="7.3" font-weight="bold" text-anchor="end" fill="#000">1.0</text>
<line x1="153.80" y1="347.35" x2="157.30" y2="347.35" stroke="#000" stroke-width="1.0"/>
<text x="152.30" y="350.28" font-size="7.3" font-weight="bold" text-anchor="end" fill="#000">1.5</text>
<polyline points="165.40,356.30 165.40,353.30 178.20,353.30 178.20,396.00" fill="none" stroke="#000" stroke-width="0.9"/>
<polyline points="180.20,396.00 180.20,353.30 191.60,353.30 191.60,367.50" fill="none" stroke="#000" stroke-width="0.9"/>
<polyline points="212.20,370.40 212.20,367.00 225.40,367.00 225.40,391.00" fill="none" stroke="#000" stroke-width="0.9"/>
<polyline points="227.10,391.00 227.10,367.00 239.90,367.00 239.90,370.40" fill="none" stroke="#000" stroke-width="0.9"/>
<polyline points="258.40,373.00 258.40,357.60 285.90,357.60 285.90,393.00" fill="none" stroke="#000" stroke-width="0.9"/>
<polyline points="261.50,372.30 261.50,369.30 272.90,369.30 272.90,403.00" fill="none" stroke="#000" stroke-width="0.9"/>
<polyline points="306.70,363.20 306.70,350.00 318.50,350.00 318.50,356.30" fill="none" stroke="#000" stroke-width="0.9"/>
<polyline points="320.50,356.30 320.50,350.00 332.70,350.00 332.70,360.20" fill="none" stroke="#000" stroke-width="0.9"/>
<text x="169.19" y="351.65" font-size="10" font-weight="bold" letter-spacing="0.4" style="font-family:'DejaVu Sans',sans-serif">*</text>
<text x="183.28" y="351.65" font-size="10" font-weight="bold" letter-spacing="0.4" style="font-family:'DejaVu Sans',sans-serif">*</text>
<text x="213.37" y="365.35" font-size="10" font-weight="bold" letter-spacing="0.4" style="font-family:'DejaVu Sans',sans-serif">**</text>
<text x="228.07" y="365.35" font-size="10" font-weight="bold" letter-spacing="0.4" style="font-family:'DejaVu Sans',sans-serif">**</text>
<text x="263.90" y="358.15" font-size="10" font-weight="bold" letter-spacing="0.4" style="font-family:'DejaVu Sans',sans-serif">***</text>
<text x="260.95" y="368.05" font-size="10" font-weight="bold" letter-spacing="0.4" style="font-family:'DejaVu Sans',sans-serif">***</text>
<text x="309.99" y="349.35" font-size="10" font-weight="bold" letter-spacing="0.4" style="font-family:'DejaVu Sans',sans-serif">*</text>
<text x="321.17" y="349.35" font-size="10" font-weight="bold" letter-spacing="0.4" style="font-family:'DejaVu Sans',sans-serif">**</text>
<text x="178.80" y="456.80" font-size="7.9" font-weight="bold" text-anchor="middle" fill="#000">HK1</text>
<text x="225.60" y="456.80" font-size="7.9" font-weight="bold" text-anchor="middle" fill="#000">PDK1</text>
<text x="272.30" y="456.80" font-size="7.9" font-weight="bold" text-anchor="middle" fill="#000">TRIM65</text>
<text x="320.00" y="456.80" font-size="7.9" font-weight="bold" text-anchor="middle" fill="#000">AMPK</text>
<line x1="179.00" y1="445.00" x2="179.00" y2="448.00" stroke="#000" stroke-width="1"/>
<line x1="225.90" y1="445.00" x2="225.90" y2="448.00" stroke="#000" stroke-width="1"/>
<line x1="272.90" y1="445.00" x2="272.90" y2="448.00" stroke="#000" stroke-width="1"/>
<line x1="319.80" y1="445.00" x2="319.80" y2="448.00" stroke="#000" stroke-width="1"/>
<text x="136.30" y="396.50" font-size="8.1" font-weight="bold" text-anchor="middle" fill="#000" transform="rotate(-90 136.30 396.50)">Relative expression levels</text>
<text x="351.40" y="336.10" font-size="8.8" font-weight="bold" text-anchor="start" fill="#000">U87</text>
<text x="389.00" y="341.80" font-size="9.1" text-anchor="start" fill="#000" transform="rotate(-29.7 389.00 341.80)">si-Ctrl</text>
<text x="412.50" y="341.80" font-size="9.1" text-anchor="start" fill="#000" transform="rotate(-29.7 412.50 341.80)">si-TRIM65</text>
<text x="437.00" y="341.80" font-size="9.1" text-anchor="start" fill="#000" transform="rotate(-29.7 437.00 341.80)">si-TRIM65+si-AMPK</text>
<text x="454.00" y="341.20" font-size="9" text-anchor="start" fill="#000">kDa</text>
<text x="381.60" y="357.00" font-size="9" text-anchor="end" fill="#000">HK1</text>
<text x="453.30" y="357.00" font-size="9" text-anchor="start" fill="#000">102</text>
<text x="381.60" y="381.20" font-size="9" text-anchor="end" fill="#000">PDK1</text>
<text x="453.30" y="381.20" font-size="9" text-anchor="start" fill="#000">49</text>
<text x="381.60" y="403.50" font-size="9" text-anchor="end" fill="#000">AMPK</text>
<text x="453.30" y="403.50" font-size="9" text-anchor="start" fill="#000">62</text>
<text x="381.60" y="424.00" font-size="9" text-anchor="end" fill="#000">TRIM65</text>
<text x="453.30" y="424.00" font-size="9" text-anchor="start" fill="#000">55</text>
<text x="381.60" y="447.60" font-size="9" text-anchor="end" fill="#000">β-actin</text>
<text x="453.30" y="447.60" font-size="9" text-anchor="start" fill="#000">42</text>
<clipPath id="bf1"><rect x="382.5" y="342.5" width="69.5" height="22.5"/></clipPath>
<g clip-path="url(#bf1)">
<rect x="382.5" y="342.5" width="69.5" height="22.5" fill="#ebebeb"/>
<rect x="386.5" y="349.5" width="19.5" height="10.5" rx="5.2" ry="5.2" fill="#777" opacity="0.3" filter="url(#b2)"/>
<rect x="388.2" y="351.7" width="15.9" height="5.5" rx="4.0" ry="2.8" fill="#060606" opacity="1" filter="url(#b1)"/>
<rect x="407.0" y="350.0" width="21.0" height="8.5" rx="4.2" ry="4.2" fill="#777" opacity="0.3" filter="url(#b2)"/>
<rect x="408.5" y="352.0" width="17.7" height="3.8" rx="4.4" ry="1.9" fill="#0c0c0c" opacity="1" filter="url(#b1)"/>
<rect x="430.5" y="349.0" width="18.0" height="10.0" rx="5.0" ry="5.0" fill="#777" opacity="0.3" filter="url(#b2)"/>
<rect x="432.0" y="351.0" width="15.0" height="5.5" rx="3.8" ry="2.8" fill="#060606" opacity="1" filter="url(#b1)"/>
</g>
<rect x="383.0" y="343.0" width="68.5" height="21.5" fill="none" stroke="#2a2a2a" stroke-width="0.9"/>
<clipPath id="bf2"><rect x="382.5" y="367" width="69.5" height="20.5"/></clipPath>
<g clip-path="url(#bf2)">
<rect x="382.5" y="367" width="69.5" height="20.5" fill="#c3c3c3"/>
<rect x="383.0" y="380.0" width="69.0" height="12.0" rx="6.0" ry="6.0" fill="#777" opacity="0.5" filter="url(#b4)"/>
<rect x="386.0" y="372.0" width="21.0" height="18.0" rx="9.0" ry="9.0" fill="#444" opacity="0.55" filter="url(#b3)"/>
<rect x="388.5" y="377.5" width="16.0" height="8.0" rx="4.0" ry="4.0" fill="#1c1c1c" opacity="0.8" filter="url(#b2)"/>
<rect x="410.0" y="373.0" width="17.0" height="17.0" rx="8.5" ry="8.5" fill="#606060" opacity="0.5" filter="url(#b3)"/>
<rect x="428.5" y="369.0" width="21.0" height="21.0" rx="10.5" ry="10.5" fill="#333" opacity="0.6" filter="url(#b3)"/>
<rect x="431.0" y="373.0" width="16.0" height="11.5" rx="5.8" ry="5.8" fill="#101010" opacity="0.85" filter="url(#b2)"/>
</g>
<rect x="383.0" y="367.5" width="68.5" height="19.5" fill="none" stroke="#2a2a2a" stroke-width="0.9"/>
<clipPath id="bf3"><rect x="382.5" y="389.5" width="69.5" height="20.5"/></clipPath>
<g clip-path="url(#bf3)">
<rect x="382.5" y="389.5" width="69.5" height="20.5" fill="#c6c6c6"/>
<rect x="385.5" y="395.5" width="21.0" height="10.5" rx="5.2" ry="5.2" fill="#555" opacity="0.4" filter="url(#b2)"/>
<rect x="387.1" y="398.0" width="17.7" height="5.4" rx="4.4" ry="2.7" fill="#080808" opacity="1" filter="url(#b1)"/>
<rect x="407.0" y="394.0" width="23.0" height="12.5" rx="6.2" ry="6.2" fill="#555" opacity="0.45" filter="url(#b2)"/>
<rect x="409.0" y="396.4" width="19.2" height="7.1" rx="4.8" ry="3.6" fill="#020202" opacity="1" filter="url(#b1)"/>
<rect x="431.5" y="395.0" width="17.5" height="8.5" rx="4.2" ry="4.2" fill="#666" opacity="0.35" filter="url(#b2)"/>
<rect x="433.0" y="397.3" width="14.5" height="3.7" rx="3.6" ry="1.8" fill="#1c1c1c" opacity="0.95" filter="url(#b1)"/>
</g>
<rect x="383.0" y="390.0" width="68.5" height="19.5" fill="none" stroke="#2a2a2a" stroke-width="0.9"/>
<clipPath id="bf4"><rect x="382.5" y="412.5" width="69.5" height="21.0"/></clipPath>
<g clip-path="url(#bf4)">
<rect x="382.5" y="412.5" width="69.5" height="21.0" fill="#d0d0d0"/>
<rect x="384.0" y="410.0" width="24.0" height="28.0" rx="14.0" ry="14.0" fill="#444" opacity="0.7" filter="url(#b4)"/>
<rect x="387.5" y="413.5" width="17.0" height="13.5" rx="6.8" ry="6.8" fill="#161616" opacity="0.85" filter="url(#b3)"/>
<rect x="410.5" y="412.0" width="18.0" height="22.0" rx="11.0" ry="11.0" fill="#888" opacity="0.6" filter="url(#b3)"/>
<rect x="431.0" y="412.0" width="18.5" height="22.0" rx="11.0" ry="11.0" fill="#888" opacity="0.55" filter="url(#b3)"/>
</g>
<rect x="383.0" y="413.0" width="68.5" height="20.0" fill="none" stroke="#2a2a2a" stroke-width="0.9"/>
<clipPath id="bf5"><rect x="382.5" y="434.5" width="69.5" height="20.19999999999999"/></clipPath>
<g clip-path="url(#bf5)">
<rect x="382.5" y="434.5" width="69.5" height="20.19999999999999" fill="#d2d2d2"/>
<rect x="386.0" y="440.5" width="21.5" height="9.5" rx="4.8" ry="4.8" fill="#666" opacity="0.3" filter="url(#b2)"/>
<rect x="387.9" y="443.0" width="17.7" height="4.4" rx="4.4" ry="2.2" fill="#050505" opacity="1" filter="url(#b1)"/>
<rect x="408.0" y="440.5" width="20.5" height="9.5" rx="4.8" ry="4.8" fill="#666" opacity="0.3" filter="url(#b2)"/>
<rect x="409.7" y="443.0" width="16.9" height="4.4" rx="4.2" ry="2.2" fill="#050505" opacity="1" filter="url(#b1)"/>
<rect x="427.5" y="440.0" width="21.0" height="9.5" rx="4.8" ry="4.8" fill="#666" opacity="0.3" filter="url(#b2)"/>
<rect x="429.0" y="442.5" width="17.8" height="4.5" rx="4.5" ry="2.2" fill="#050505" opacity="1" filter="url(#b1)"/>
</g>
<rect x="383.0" y="435.0" width="68.5" height="19.19999999999999" fill="none" stroke="#2a2a2a" stroke-width="0.9"/>
<rect x="512" y="306.1" width="9.9" height="4.4" fill="#000" stroke="#000" stroke-width="1.1"/>
<text x="528.90" y="311.10" font-size="8.5" text-anchor="start" fill="#000">si-Ctrl</text>
<rect x="512" y="316.6" width="9.9" height="4.4" fill="#fff" stroke="#000" stroke-width="1.1"/>
<text x="528.90" y="321.60" font-size="8.5" text-anchor="start" fill="#000">si-TRIM65</text>
<rect x="512" y="327.1" width="9.9" height="4.4" fill="#f43d46" stroke="#000" stroke-width="1.1"/>
<text x="528.90" y="332.10" font-size="8.5" text-anchor="start" fill="#000">si-TRIM65+si-AMPK</text>
<line x1="516.85" y1="374.00" x2="516.85" y2="366.10" stroke="#000" stroke-width="0.9"/>
<line x1="514.45" y1="366.10" x2="519.25" y2="366.10" stroke="#000" stroke-width="0.9"/>
<line x1="529.35" y1="388.20" x2="529.35" y2="381.50" stroke="#000" stroke-width="0.9"/>
<line x1="526.95" y1="381.50" x2="531.75" y2="381.50" stroke="#000" stroke-width="0.9"/>
<line x1="541.25" y1="377.30" x2="541.25" y2="369.30" stroke="#000" stroke-width="0.9"/>
<line x1="538.85" y1="369.30" x2="543.65" y2="369.30" stroke="#000" stroke-width="0.9"/>
<line x1="561.85" y1="374.00" x2="561.85" y2="366.10" stroke="#000" stroke-width="0.9"/>
<line x1="559.45" y1="366.10" x2="564.25" y2="366.10" stroke="#000" stroke-width="0.9"/>
<line x1="574.15" y1="386.10" x2="574.15" y2="374.20" stroke="#000" stroke-width="0.9"/>
<line x1="571.75" y1="374.20" x2="576.55" y2="374.20" stroke="#000" stroke-width="0.9"/>
<line x1="586.15" y1="375.70" x2="586.15" y2="362.30" stroke="#000" stroke-width="0.9"/>
<line x1="583.75" y1="362.30" x2="588.55" y2="362.30" stroke="#000" stroke-width="0.9"/>
<line x1="606.55" y1="374.00" x2="606.55" y2="371.20" stroke="#000" stroke-width="0.9"/>
<line x1="604.15" y1="371.20" x2="608.95" y2="371.20" stroke="#000" stroke-width="0.9"/>
<line x1="618.55" y1="396.80" x2="618.55" y2="394.50" stroke="#000" stroke-width="0.9"/>
<line x1="616.15" y1="394.50" x2="620.95" y2="394.50" stroke="#000" stroke-width="0.9"/>
<line x1="630.55" y1="398.60" x2="630.55" y2="396.60" stroke="#000" stroke-width="0.9"/>
<line x1="628.15" y1="396.60" x2="632.95" y2="396.60" stroke="#000" stroke-width="0.9"/>
<line x1="651.25" y1="374.00" x2="651.25" y2="367.00" stroke="#000" stroke-width="0.9"/>
<line x1="648.85" y1="367.00" x2="653.65" y2="367.00" stroke="#000" stroke-width="0.9"/>
<line x1="663.25" y1="355.20" x2="663.25" y2="350.60" stroke="#000" stroke-width="0.9"/>
<line x1="660.85" y1="350.60" x2="665.65" y2="350.60" stroke="#000" stroke-width="0.9"/>
<line x1="675.35" y1="374.50" x2="675.35" y2="362.30" stroke="#000" stroke-width="0.9"/>
<line x1="672.95" y1="362.30" x2="677.75" y2="362.30" stroke="#000" stroke-width="0.9"/>
<rect x="513.40" y="374.50" width="6.90" height="68.10" fill="#000" stroke="#000" stroke-width="1.1"/>
<rect x="525.90" y="388.70" width="6.90" height="53.90" fill="#fff" stroke="#000" stroke-width="1.1"/>
<rect x="537.80" y="377.80" width="6.90" height="64.80" fill="#f43d46" stroke="#000" stroke-width="1.1"/>
<rect x="558.40" y="374.50" width="6.90" height="68.10" fill="#000" stroke="#000" stroke-width="1.1"/>
<rect x="570.70" y="386.60" width="6.90" height="56.00" fill="#fff" stroke="#000" stroke-width="1.1"/>
<rect x="582.70" y="376.20" width="6.90" height="66.40" fill="#f43d46" stroke="#000" stroke-width="1.1"/>
<rect x="603.10" y="374.50" width="6.90" height="68.10" fill="#000" stroke="#000" stroke-width="1.1"/>
<rect x="615.10" y="397.30" width="6.90" height="45.30" fill="#fff" stroke="#000" stroke-width="1.1"/>
<rect x="627.10" y="399.10" width="6.90" height="43.50" fill="#f43d46" stroke="#000" stroke-width="1.1"/>
<rect x="647.80" y="374.50" width="6.90" height="68.10" fill="#000" stroke="#000" stroke-width="1.1"/>
<rect x="659.80" y="355.70" width="6.90" height="86.90" fill="#fff" stroke="#000" stroke-width="1.1"/>
<rect x="671.90" y="375.00" width="6.90" height="67.60" fill="#f43d46" stroke="#000" stroke-width="1.1"/>
<line x1="508.80" y1="339.20" x2="508.80" y2="443.10" stroke="#000" stroke-width="1.0"/>
<line x1="508.30" y1="442.60" x2="684.50" y2="442.60" stroke="#000" stroke-width="1.0"/>
<line x1="505.30" y1="442.60" x2="508.80" y2="442.60" stroke="#000" stroke-width="1.0"/>
<text x="503.80" y="445.60" font-size="7.5" font-weight="bold" text-anchor="end" fill="#000">0.0</text>
<line x1="505.30" y1="408.30" x2="508.80" y2="408.30" stroke="#000" stroke-width="1.0"/>
<text x="503.80" y="411.30" font-size="7.5" font-weight="bold" text-anchor="end" fill="#000">0.5</text>
<line x1="505.30" y1="374.00" x2="508.80" y2="374.00" stroke="#000" stroke-width="1.0"/>
<text x="503.80" y="377.00" font-size="7.5" font-weight="bold" text-anchor="end" fill="#000">1.0</text>
<line x1="505.30" y1="339.70" x2="508.80" y2="339.70" stroke="#000" stroke-width="1.0"/>
<text x="503.80" y="342.70" font-size="7.5" font-weight="bold" text-anchor="end" fill="#000">1.5</text>
<polyline points="516.80,363.20 516.80,356.20 528.20,356.20 528.20,375.70" fill="none" stroke="#000" stroke-width="0.9"/>
<polyline points="530.90,375.70 530.90,356.20 541.90,356.20 541.90,365.80" fill="none" stroke="#000" stroke-width="0.9"/>
<polyline points="561.00,361.30 561.00,353.20 572.90,353.20 572.90,368.90" fill="none" stroke="#000" stroke-width="0.9"/>
<polyline points="575.00,368.90 575.00,353.20 585.70,353.20 585.70,359.00" fill="none" stroke="#000" stroke-width="0.9"/>
<polyline points="604.90,370.00 604.90,354.10 630.90,354.10 630.90,391.00" fill="none" stroke="#000" stroke-width="0.9"/>
<polyline points="607.10,370.00 607.10,366.60 619.30,366.60 619.30,391.00" fill="none" stroke="#000" stroke-width="0.9"/>
<polyline points="651.00,362.00 651.00,341.00 662.40,341.00 662.40,346.80" fill="none" stroke="#000" stroke-width="0.9"/>
<polyline points="664.30,346.80 664.30,341.00 675.40,341.00 675.40,358.20" fill="none" stroke="#000" stroke-width="0.9"/>
<text x="519.88" y="357.55" font-size="10" font-weight="bold" letter-spacing="0.4" style="font-family:'DejaVu Sans',sans-serif">*</text>
<text x="533.78" y="357.55" font-size="10" font-weight="bold" letter-spacing="0.4" style="font-family:'DejaVu Sans',sans-serif">*</text>
<text x="564.34" y="354.55" font-size="10" font-weight="bold" letter-spacing="0.4" style="font-family:'DejaVu Sans',sans-serif">*</text>
<text x="577.74" y="354.55" font-size="10" font-weight="bold" letter-spacing="0.4" style="font-family:'DejaVu Sans',sans-serif">*</text>
<text x="609.65" y="355.45" font-size="10" font-weight="bold" letter-spacing="0.4" style="font-family:'DejaVu Sans',sans-serif">***</text>
<text x="606.16" y="367.65" font-size="10" font-weight="bold" letter-spacing="0.4" style="font-family:'DejaVu Sans',sans-serif">***</text>
<text x="654.09" y="342.35" font-size="10" font-weight="bold" letter-spacing="0.4" style="font-family:'DejaVu Sans',sans-serif">*</text>
<text x="667.23" y="342.35" font-size="10" font-weight="bold" letter-spacing="0.4" style="font-family:'DejaVu Sans',sans-serif">*</text>
<text x="528.60" y="455.50" font-size="8.2" font-weight="bold" text-anchor="middle" fill="#000">HK1</text>
<text x="573.70" y="455.50" font-size="8.2" font-weight="bold" text-anchor="middle" fill="#000">PDK1</text>
<text x="618.20" y="455.50" font-size="8.2" font-weight="bold" text-anchor="middle" fill="#000">TRIM65</text>
<text x="662.90" y="455.50" font-size="8.2" font-weight="bold" text-anchor="middle" fill="#000">AMPK</text>
<line x1="529.35" y1="442.60" x2="529.35" y2="445.60" stroke="#000" stroke-width="1"/>
<line x1="574.15" y1="442.60" x2="574.15" y2="445.60" stroke="#000" stroke-width="1"/>
<line x1="618.55" y1="442.60" x2="618.55" y2="445.60" stroke="#000" stroke-width="1"/>
<line x1="663.25" y1="442.60" x2="663.25" y2="445.60" stroke="#000" stroke-width="1"/>
<text x="486.60" y="391.50" font-size="8.1" font-weight="bold" text-anchor="middle" fill="#000" transform="rotate(-90 486.60 391.50)">Relative expression levels</text>
</svg></body></html>
